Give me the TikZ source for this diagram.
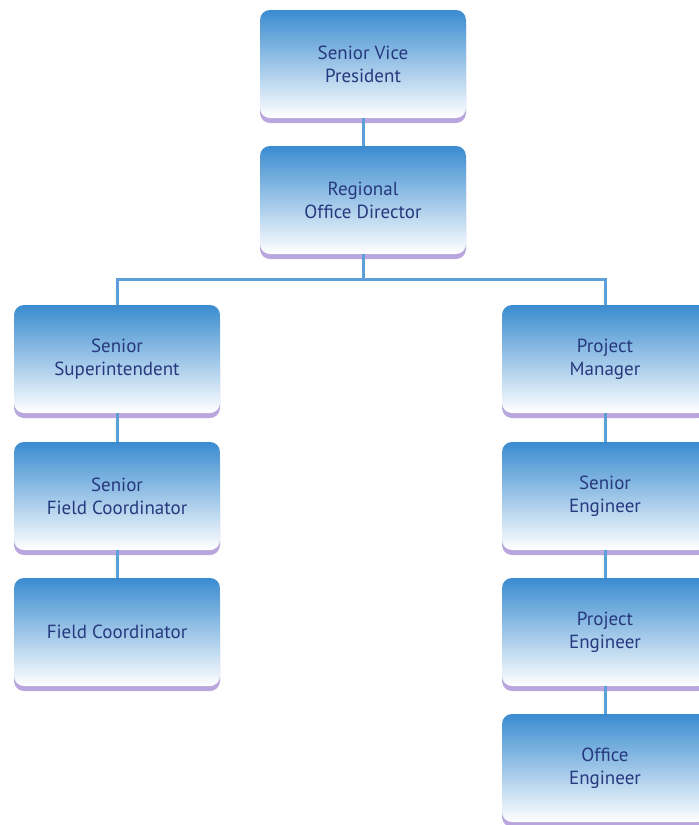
\documentclass[tikz,border=0pt]{standalone}
\usepackage{fontspec}
\setmainfont{PT Sans}
\usetikzlibrary{shadows}
\definecolor{boxtop}{HTML}{3A8CD0}
\definecolor{boxmid}{HTML}{84BAE8}
\definecolor{boxrim}{HTML}{B9A6DD}
\definecolor{boxtext}{HTML}{27397E}
\definecolor{linkblue}{HTML}{5E9FD9}
\begin{document}
\begin{tikzpicture}[x=1pt,y=-1pt,
    post/.style={rounded corners=10pt,minimum width=206pt,minimum height=108pt,
      top color=boxtop,middle color=boxmid,bottom color=white,
      general shadow={fill=boxrim,shadow yshift=-5pt},
      align=center,text=boxtext,font=\fontsize{19}{23}\selectfont},
    link/.style={linkblue,line width=3pt}]
\useasboundingbox (0,0) rectangle (699,825);
% top
\node[post](svp) at (363,64) {Senior Vice\\President};
\node[post](rod) at (363,200) {Regional\\Office Director};
% left column
\node[post](ss) at (117,359) {Senior\\Superintendent};
\node[post](sfc) at (117,496) {Senior\\Field Coordinator};
\node[post](fc) at (117,632) {Field Coordinator};
% right column
\node[post](pm) at (605,359) {Project\\Manager};
\node[post](se) at (605,496) {Senior\\Engineer};
\node[post](pe) at (605,632) {Project\\Engineer};
\node[post](oe) at (605,768) {Office\\Engineer};

\coordinate (bus) at (363,279);
\draw[link](svp.south)--(rod.north);
\draw[link](rod.south)--(bus);
\draw[link](ss.north)|-(bus)-|(pm.north);
\draw[link](ss.south)--(sfc.north);
\draw[link](sfc.south)--(fc.north);
\draw[link](pm.south)--(se.north);
\draw[link](se.south)--(pe.north);
\draw[link](pe.south)--(oe.north);
\end{tikzpicture}
\end{document}
